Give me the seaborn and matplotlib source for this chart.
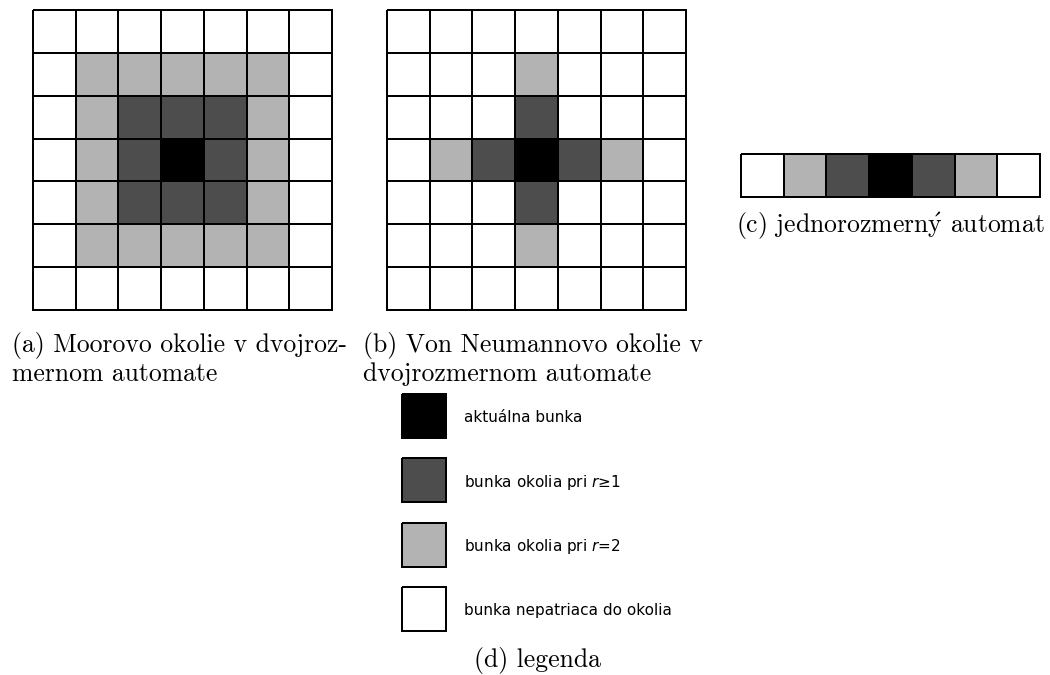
import numpy as np
import matplotlib
matplotlib.use("Agg")
import matplotlib.pyplot as plt
from matplotlib.colors import ListedColormap
import seaborn as sns

# 0 = bunka mimo okolia, 1 = r=2, 2 = r>=1, 3 = aktualna bunka
moore = [
    [0, 0, 0, 0, 0, 0, 0],
    [0, 1, 1, 1, 1, 1, 0],
    [0, 1, 2, 2, 2, 1, 0],
    [0, 1, 2, 3, 2, 1, 0],
    [0, 1, 2, 2, 2, 1, 0],
    [0, 1, 1, 1, 1, 1, 0],
    [0, 0, 0, 0, 0, 0, 0],
]
von_neumann = [
    [0, 0, 0, 0, 0, 0, 0],
    [0, 0, 0, 1, 0, 0, 0],
    [0, 0, 0, 2, 0, 0, 0],
    [0, 1, 2, 3, 2, 1, 0],
    [0, 0, 0, 2, 0, 0, 0],
    [0, 0, 0, 1, 0, 0, 0],
    [0, 0, 0, 0, 0, 0, 0],
]
one_dim = [[0, 1, 2, 3, 2, 1, 0]]

legend_codes = [3, 2, 1, 0]
legend_labels = ["aktuálna bunka", "bunka okolia pri $r$≥1",
                 "bunka okolia pri $r$=2", "bunka nepatriaca do okolia"]

captions = {
    "a": ["(a) Moorovo okolie v dvojroz-", "mernom automate"],
    "b": ["(b) Von Neumannovo okolie v", "dvojrozmernom automate"],
    "c": [r"(c) jednorozmern$\mathrm{\acute{y}}$ automat"],
    "d": ["(d) legenda"],
}

colors = ["#ffffff", "#b3b3b3", "#4d4d4d", "#000000"]
cmap = ListedColormap(colors)

W, H = 1050, 675
fig = plt.figure(figsize=(10.5, 6.75), dpi=100)
serif = ["cmr10", "DejaVu Serif"]
plt.rcParams["axes.formatter.use_mathtext"] = True


def px_axes(x0, y0, x1, y1):
    # pixel box (top-left origin) -> figure axes
    return fig.add_axes([x0 / W, 1 - y1 / H, (x1 - x0) / W, (y1 - y0) / H])


def draw_grid(ax, data, lw=1.3):
    sns.heatmap(np.array(data), ax=ax, cmap=cmap, vmin=-0.5, vmax=3.5,
                cbar=False, linewidths=lw, linecolor="black",
                xticklabels=False, yticklabels=False, square=False)
    ax.collections[0].set_clip_on(False)
    ax.set_axis_off()


draw_grid(px_axes(33, 10, 332, 310), moore)
draw_grid(px_axes(387, 10, 686, 310), von_neumann)
draw_grid(px_axes(741, 154, 1040, 197), one_dim)

# legenda
tops = [394, 458, 523, 587]
for code, label, top in zip(legend_codes, legend_labels, tops):
    ax = px_axes(402, top, 446, top + 44)
    draw_grid(ax, [[code]], lw=1.1)
    fig.text(464 / W, 1 - (top + 24) / H, label, fontsize=11,
             family="DejaVu Sans", va="center", ha="left")


def caption(x, y, s, ha="left"):
    fig.text(x / W, 1 - y / H, s, fontsize=18.5, family=serif,
             math_fontfamily="cm", va="baseline", ha=ha)


caption(12, 352, captions["a"][0])
caption(12, 381, captions["a"][1])
caption(363, 352, captions["b"][0])
caption(363, 381, captions["b"][1])
caption(890, 233, captions["c"][0], ha="center")
caption(537, 667, captions["d"][0], ha="center")

fig.savefig("out.png", dpi=100, facecolor="white")
